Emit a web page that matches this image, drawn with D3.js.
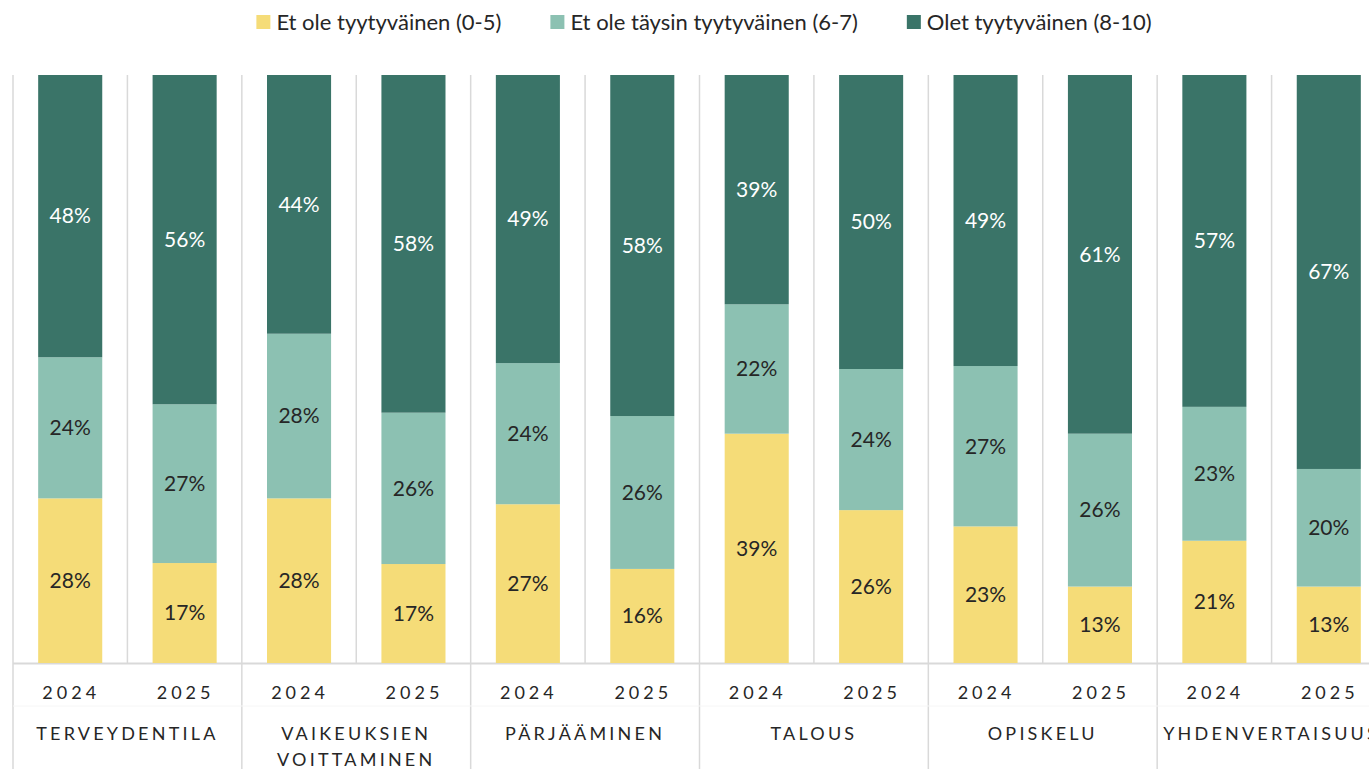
<!DOCTYPE html>
<html><head><meta charset="utf-8">
<script src="https://cdn.jsdelivr.net/npm/d3@7/dist/d3.min.js"></script>
<style>
html,body{margin:0;padding:0;background:#fff;}
svg{display:block;font-family:Lato, "Open Sans", sans-serif;}
</style></head>
<body><svg id="chart" width="1369" height="769"></svg>
<script>
const categories = [["TERVEYDENTILA"], ["VAIKEUKSIEN", "VOITTAMINEN"], ["PÄRJÄÄMINEN"], ["TALOUS"], ["OPISKELU"], ["YHDENVERTAISUUS"]];
const years = ["2024", "2025"];
const seriesNames = ["Et ole tyytyväinen (0-5)", "Et ole täysin tyytyväinen (6-7)", "Olet tyytyväinen (8-10)"];
const seriesColors = ["#F5DC78", "#8CC1B2", "#3A7468"];
const labelColors = ["#262626", "#262626", "#ffffff"];
// values per bar (category × year), in order
const notSatisfied   = [28, 17, 28, 17, 27, 16, 39, 26, 23, 13, 21, 13];
const notFully       = [24, 27, 28, 26, 24, 26, 22, 24, 27, 26, 23, 20];
const satisfied      = [48, 56, 44, 58, 49, 58, 39, 50, 49, 61, 57, 67];

const rows = [];
categories.forEach((c, ci) => years.forEach((yr, yi) => {
  const i = ci * 2 + yi;
  rows.push({cat: c.join(" "), year: yr, s0: notSatisfied[i], s1: notFully[i], s2: satisfied[i]});
}));

const svg = d3.select("#chart");
const M = {left: 13, right: 1386, top: 75, bottom: 663, H: 769};
const catNames = categories.map(c => c.join(" "));
const x0 = d3.scaleBand().domain(catNames).range([M.left, M.right]).padding(0);
const x1 = d3.scaleBand().domain(years).range([0, x0.bandwidth()]).padding(0);
const barW = x1.bandwidth() * 0.56;
const y = d3.scaleLinear().domain([0, 1]).range([M.bottom, M.top]);

const stack = d3.stack().keys(["s0", "s1", "s2"]).offset(d3.stackOffsetExpand);
const stacked = stack(rows);

const grid = "#D9D9D9";
const g = svg.append("g");
rows.forEach((r) => {
  const xb = x0(r.cat) + x1(r.year);
  const isCatEdge = r.year === years[0];
  g.append("line").attr("x1", xb).attr("x2", xb).attr("y1", M.top).attr("y2", isCatEdge ? M.H : M.bottom)
    .attr("stroke", grid).attr("stroke-width", 1.5);
});
g.append("line").attr("x1", M.right).attr("x2", M.right).attr("y1", M.top).attr("y2", M.H).attr("stroke", grid).attr("stroke-width", 1.5);
g.append("line").attr("x1", M.left).attr("x2", M.right).attr("y1", M.bottom + 0.5).attr("y2", M.bottom + 0.5).attr("stroke", grid).attr("stroke-width", 2);
g.append("line").attr("x1", M.left).attr("x2", M.right).attr("y1", 706).attr("y2", 706).attr("stroke", "#F6F6F6").attr("stroke-width", 1);

const cx = d => x0(d.data.cat) + x1(d.data.year) + x1.bandwidth() / 2;
stacked.forEach((s, si) => {
  const gs = svg.append("g");
  gs.selectAll("rect").data(s).join("rect")
    .attr("x", d => cx(d) - barW / 2)
    .attr("width", barW)
    .attr("y", d => y(d[1]))
    .attr("height", d => y(d[0]) - y(d[1]))
    .attr("fill", seriesColors[si]);
  gs.selectAll("text").data(s).join("text")
    .attr("x", d => cx(d))
    .attr("y", d => (y(d[0]) + y(d[1])) / 2)
    .attr("dy", "0.35em")
    .attr("text-anchor", "middle")
    .attr("font-size", 21)
    .attr("fill", labelColors[si])
    .text(d => d.data[s.key] + "%");
});

svg.append("g").selectAll("text").data(rows).join("text")
  .attr("x", d => x0(d.cat) + x1(d.year) + x1.bandwidth() / 2 + 1)
  .attr("y", 699)
  .attr("text-anchor", "middle")
  .attr("font-size", 18)
  .attr("letter-spacing", 4)
  .attr("fill", "#262626")
  .text(d => d.year);

const cg = svg.append("g");
categories.forEach((c, ci) => {
  const xc = x0(catNames[ci]) + x0.bandwidth() / 2;
  const t = cg.append("text")
    .attr("x", xc)
    .attr("y", 740)
    .attr("text-anchor", "middle")
    .attr("font-size", 18)
    .attr("letter-spacing", 3.2)
    .attr("fill", "#262626");
  c.forEach((line, li) => {
    t.append("tspan").attr("x", xc).attr("dy", li === 0 ? 0 : 26).text(line);
  });
});

const lg = svg.append("g");
const items = seriesNames.map((n, i) => {
  const it = lg.append("g");
  it.append("rect").attr("width", 14).attr("height", 14).attr("y", 15).attr("fill", seriesColors[i]);
  const tx = it.append("text").attr("x", 20).attr("y", 29.5).attr("font-size", 22).attr("fill", "#262626").text(n);
  return {it, w: 20 + tx.node().getComputedTextLength()};
});
const gap = 49;
const total = d3.sum(items, d => d.w) + gap * (items.length - 1);
let xp = 704 - total / 2;
items.forEach(d => { d.it.attr("transform", `translate(${xp},0)`); xp += d.w + gap; });
</script></body></html>
